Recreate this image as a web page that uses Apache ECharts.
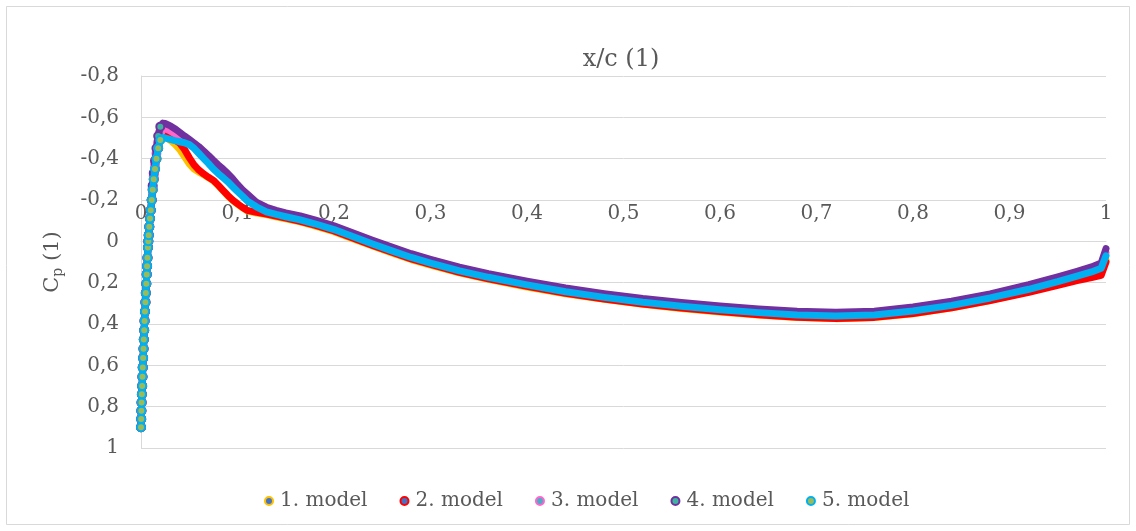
<!DOCTYPE html>
<html>
<head>
<meta charset="utf-8">
<script src="https://cdn.jsdelivr.net/npm/echarts@6/dist/echarts.min.js"></script>
<style>html,body{margin:0;padding:0;background:#fff}#c{width:1136px;height:531px}</style>
</head>
<body>
<div id="c"></div>
<script>
// Leading-edge (stagnation) branch, shared by all models
const xLE = [0.0000,0.0002,0.0004,0.0006,0.0009,0.0012,0.0015,0.0018,0.0022,0.0026,0.0029,0.0033,0.0037,0.0041,0.0046,0.0050,0.0055,0.0059,0.0063,0.0067,0.0072,0.0076,0.0080,0.0086,0.0093,0.0101,0.0111];
const cpLE = [0.90,0.86,0.82,0.78,0.74,0.70,0.655,0.61,0.565,0.52,0.475,0.43,0.385,0.34,0.295,0.25,0.205,0.16,0.12,0.08,0.03,0.0,-0.03,-0.07,-0.11,-0.15,-0.20];

// Main chord stations
const xMain = [0.0121,0.0132,0.0145,0.016,0.0178,0.020,0.0225,0.025,0.030,0.035,0.040,0.045,0.050,0.055,0.060,0.065,0.070,0.075,0.080,0.085,0.090,0.095,0.100,0.105,0.110,0.120,0.130,0.140,0.150,0.165,0.180,0.200,0.22,0.24,0.26,0.28,0.30,0.33,0.36,0.40,0.44,0.48,0.52,0.56,0.60,0.64,0.68,0.72,0.76,0.80,0.84,0.88,0.92,0.95,0.97,0.985,0.995,1.0];

const cp1 = [-0.25,-0.30,-0.35,-0.40,-0.45,-0.49,-0.505,-0.505,-0.49,-0.47,-0.445,-0.41,-0.375,-0.35,-0.335,-0.322,-0.308,-0.292,-0.27,-0.245,-0.22,-0.198,-0.18,-0.163,-0.148,-0.137,-0.129,-0.119,-0.109,-0.094,-0.075,-0.047,-0.012,0.023,0.056,0.088,0.115,0.153,0.184,0.221,0.254,0.281,0.305,0.325,0.342,0.356,0.368,0.374,0.369,0.35,0.322,0.286,0.244,0.208,0.183,0.165,0.15,0.09];
const cp2 = [-0.25,-0.30,-0.35,-0.40,-0.45,-0.50,-0.52,-0.518,-0.505,-0.492,-0.475,-0.445,-0.405,-0.37,-0.345,-0.326,-0.31,-0.295,-0.272,-0.247,-0.222,-0.20,-0.182,-0.165,-0.15,-0.14,-0.132,-0.122,-0.112,-0.097,-0.078,-0.05,-0.015,0.02,0.053,0.085,0.112,0.15,0.181,0.218,0.251,0.279,0.303,0.323,0.34,0.355,0.367,0.373,0.368,0.349,0.322,0.287,0.247,0.213,0.19,0.175,0.165,0.10];
const cp3 = [-0.26,-0.315,-0.37,-0.425,-0.48,-0.53,-0.548,-0.545,-0.535,-0.52,-0.505,-0.49,-0.475,-0.458,-0.438,-0.415,-0.39,-0.365,-0.342,-0.32,-0.298,-0.273,-0.25,-0.228,-0.205,-0.173,-0.15,-0.137,-0.127,-0.112,-0.093,-0.065,-0.03,0.005,0.038,0.07,0.097,0.135,0.166,0.203,0.236,0.263,0.287,0.306,0.323,0.337,0.348,0.353,0.348,0.329,0.302,0.266,0.223,0.185,0.158,0.138,0.12,0.055];
const cp4 = [-0.27,-0.33,-0.39,-0.45,-0.51,-0.555,-0.572,-0.57,-0.56,-0.545,-0.528,-0.51,-0.493,-0.476,-0.458,-0.437,-0.415,-0.392,-0.37,-0.35,-0.328,-0.303,-0.275,-0.25,-0.23,-0.188,-0.165,-0.15,-0.138,-0.123,-0.104,-0.075,-0.04,-0.005,0.028,0.06,0.087,0.125,0.156,0.193,0.226,0.253,0.277,0.296,0.313,0.327,0.338,0.343,0.338,0.318,0.29,0.254,0.21,0.172,0.145,0.124,0.105,0.035];
const cp5 = [-0.25,-0.30,-0.35,-0.40,-0.45,-0.49,-0.502,-0.50,-0.493,-0.487,-0.482,-0.477,-0.468,-0.45,-0.425,-0.40,-0.376,-0.35,-0.328,-0.308,-0.288,-0.264,-0.241,-0.219,-0.196,-0.166,-0.143,-0.13,-0.119,-0.104,-0.085,-0.057,-0.022,0.013,0.046,0.078,0.105,0.143,0.174,0.211,0.244,0.271,0.295,0.314,0.331,0.345,0.356,0.361,0.356,0.337,0.31,0.274,0.232,0.195,0.168,0.148,0.13,0.07];

const seriesNames = ['1. model','2. model','3. model','4. model','5. model'];
const seriesCp = [cp1, cp2, cp3, cp4, cp5];
const yTicks = [-0.8,-0.6,-0.4,-0.2,0,0.2,0.4,0.6,0.8,1];
const xTicks = [0,0.1,0.2,0.3,0.4,0.5,0.6,0.7,0.8,0.9,1];

const lineColors = ['#FFC000','#FF0000','#FF66CC','#7030A0','#00B0F0'];
const markerFills = ['#4472C4','#4472C4','#4BACC6','#3CB4A0','#9BBB59'];
const FONT = 'DejaVu Serif';
const TXT = '#595959';
const GRID = '#d9d9d9';

const GRID_TOP = 76, GRID_BOTTOM = 83, H = 531;
// place the x axis on Cp = 0 (axis runs from -0.8 at top to 1 at bottom)
const zeroOffset = (H - GRID_TOP - GRID_BOTTOM) * (0 - yTicks[0]) / (yTicks[yTicks.length - 1] - yTicks[0]);

const fmt = v => { const r = Math.round(v * 10) / 10; return (r === 0 ? '0' : String(r)).replace('.', ','); };

function buildData(cp) {
  const d = [];
  xLE.forEach((x, i) => d.push({ value: [x, cpLE[i]] }));
  xMain.forEach((x, i) => d.push(i < 6 ? { value: [x, cp[i]] } : { value: [x, cp[i]], symbol: 'none' }));
  return d;
}

const chart = echarts.init(document.getElementById('c'), null, { renderer: 'canvas' });
chart.setOption({
  animation: false,
  backgroundColor: '#fff',
  grid: { left: 141, right: 30, top: GRID_TOP, bottom: GRID_BOTTOM, containLabel: false },
  graphic: [
    { type: 'rect', shape: { x: 6.5, y: 6.5, width: 1123, height: 518 }, style: { fill: 'none', stroke: GRID, lineWidth: 1 }, silent: true },
    { type: 'text', x: 621, y: 60, style: { text: 'x/c (1)', font: '24px "' + FONT + '"', fill: TXT, textAlign: 'center', textVerticalAlign: 'middle' }, silent: true }
  ],
  legend: {
    left: 259, top: 486,
    icon: 'circle', itemWidth: 12, itemHeight: 8, itemGap: 32,
    textStyle: { fontFamily: FONT, fontSize: 20, color: TXT },
    data: seriesNames.map((n, i) => ({ name: n, itemStyle: { color: markerFills[i], borderColor: lineColors[i], borderWidth: 2 } }))
  },
  xAxis: {
    type: 'value', min: xTicks[0], max: xTicks[xTicks.length - 1], interval: 0.1,
    position: 'top', offset: -zeroOffset,
    axisLine: { show: true, onZero: false, lineStyle: { color: GRID, width: 1 } },
    axisTick: { show: false },
    splitLine: { show: false },
    axisLabel: { margin: 18, fontFamily: FONT, fontSize: 20, color: TXT, formatter: fmt }
  },
  yAxis: {
    type: 'value', inverse: true, min: yTicks[0], max: yTicks[yTicks.length - 1], interval: 0.2,
    axisLine: { show: true, onZero: false, lineStyle: { color: GRID, width: 1 } },
    axisTick: { show: false },
    splitLine: { show: true, lineStyle: { color: GRID, width: 1 } },
    axisLabel: { margin: 22, fontFamily: FONT, fontSize: 20, color: TXT, formatter: fmt },
    name: '{c|C}{s|p}{c| (1)}',
    nameLocation: 'middle', nameRotate: 90, nameGap: 76,
    nameTextStyle: {
      rich: {
        c: { fontFamily: FONT, fontSize: 21, color: TXT, lineHeight: 24 },
        s: { fontFamily: FONT, fontSize: 14, color: TXT, lineHeight: 10, verticalAlign: 'bottom' }
      }
    }
  },
  series: seriesNames.map((n, i) => ({
    name: n, type: 'line',
    data: buildData(seriesCp[i]),
    symbol: 'circle', symbolSize: 8, showSymbol: true, showAllSymbol: true,
    itemStyle: { color: markerFills[i], borderColor: lineColors[i], borderWidth: 2 },
    lineStyle: { color: lineColors[i], width: 7, cap: 'round', join: 'round' },
    emphasis: { disabled: true },
    z: 2 + i
  }))
});
</script>
</body>
</html>
